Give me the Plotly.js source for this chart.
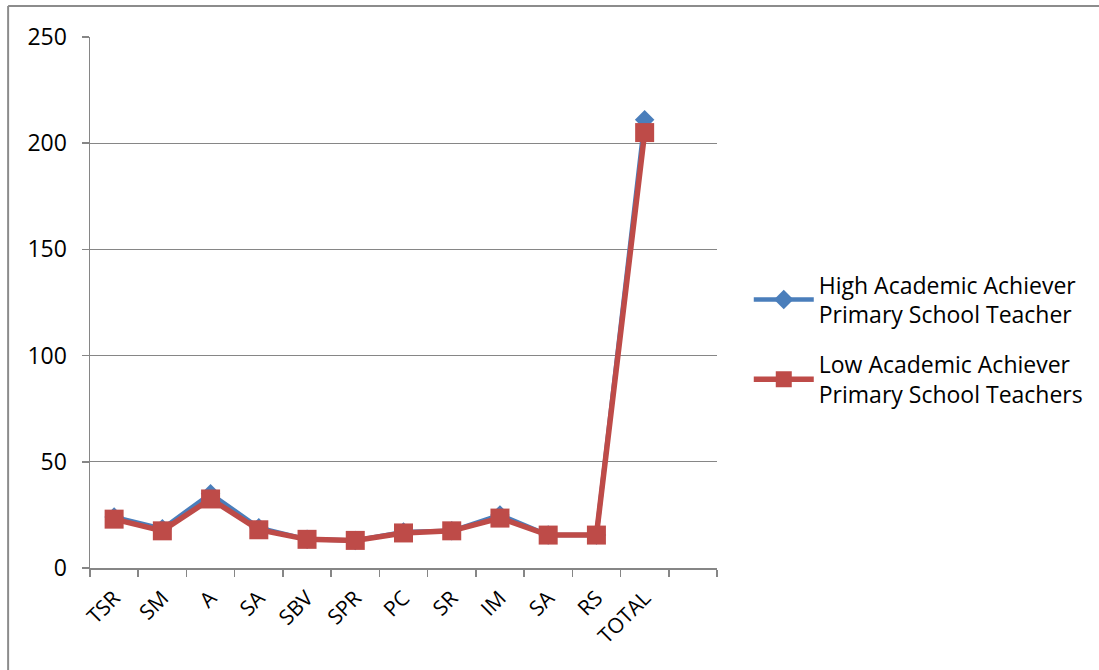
<!DOCTYPE html>
<html>
<head>
<meta charset="utf-8">
<script src="https://cdn.plot.ly/plotly-3.0.1.min.js"></script>
<style>html,body{margin:0;padding:0;background:#fff;}#chart{width:1099px;height:670px;}</style>
</head>
<body>
<div id="chart"></div>
<script>
const categories = ["TSR", "SM", "A", "SA", "SBV", "SPR", "PC", "SR", "IM", "SA", "RS", "TOTAL"];
const highAchievers = [24, 18.5, 35, 19, 13.5, 13, 17, 17.5, 25, 15.5, 15.5, 211];
const lowAchievers = [23, 17.5, 32.5, 18, 13.5, 13, 16.5, 17.5, 23.5, 15.5, 15.5, 205];
const seriesNames = ["High Academic Achiever<br>Primary School Teacher", "Low Academic Achiever<br>Primary School Teachers"];

const xs = categories.map((c, i) => i);
const font = "Open Sans, Liberation Sans, sans-serif";
const axisColor = "#868686";

const traces = [
  {x: xs, y: highAchievers, name: seriesNames[0], legendgroup: "g1", type: "scatter", mode: "lines+markers",
   line: {color: "#4a7ebb", width: 4.5}, marker: {symbol: "diamond", size: 15, color: "#4a7ebb"}},
  {x: xs, y: lowAchievers, name: seriesNames[1], legendgroup: "g2", type: "scatter", mode: "lines+markers",
   line: {color: "#be4b48", width: 5.5}, marker: {symbol: "square", size: 19, color: "#be4b48"}}
];

const layout = {
  width: 1099, height: 670,
  margin: {l: 90, r: 381, t: 37, b: 102},
  paper_bgcolor: "#fff", plot_bgcolor: "#fff",
  font: {family: font, color: "#000"},
  showlegend: true,
  legend: {x: 1.049, y: 0.43, xanchor: "left", yanchor: "middle", font: {size: 23, family: font},
           tracegroupgap: 17, itemwidth: 60},
  xaxis: {
    range: [-0.5, 12.5], tickmode: "array", tickvals: xs, ticktext: categories,
    tickangle: -45, ticks: "", showgrid: false, zeroline: false,
    showline: true, linecolor: axisColor, linewidth: 1.5,
    tickfont: {size: 21, family: font}, ticklabelstandoff: 8,
    minor: {tick0: -0.5, dtick: 1, ticks: "outside", ticklen: 7, tickcolor: axisColor, tickwidth: 1.5, showgrid: false}
  },
  yaxis: {
    range: [0, 250], dtick: 50, ticks: "outside", ticklen: 7, tickcolor: axisColor, tickwidth: 1.5,
    showgrid: true, gridcolor: axisColor, gridwidth: 1.2, zeroline: false,
    showline: true, linecolor: axisColor, linewidth: 1.5,
    tickfont: {size: 23, family: font}, ticklabelstandoff: 10
  },
  shapes: [
    {type: "line", xref: "paper", yref: "paper", x0: -0.1306, x1: 1.7, y0: 1.0584, y1: 1.0584, line: {color: "#8c8c8c", width: 2}},
    {type: "line", xref: "paper", yref: "paper", x0: -0.1306, x1: -0.1306, y0: 1.0584, y1: -0.25, line: {color: "#8c8c8c", width: 2}}
  ]
};

Plotly.newPlot("chart", traces, layout, {displayModeBar: false, staticPlot: true});
</script>
</body>
</html>
